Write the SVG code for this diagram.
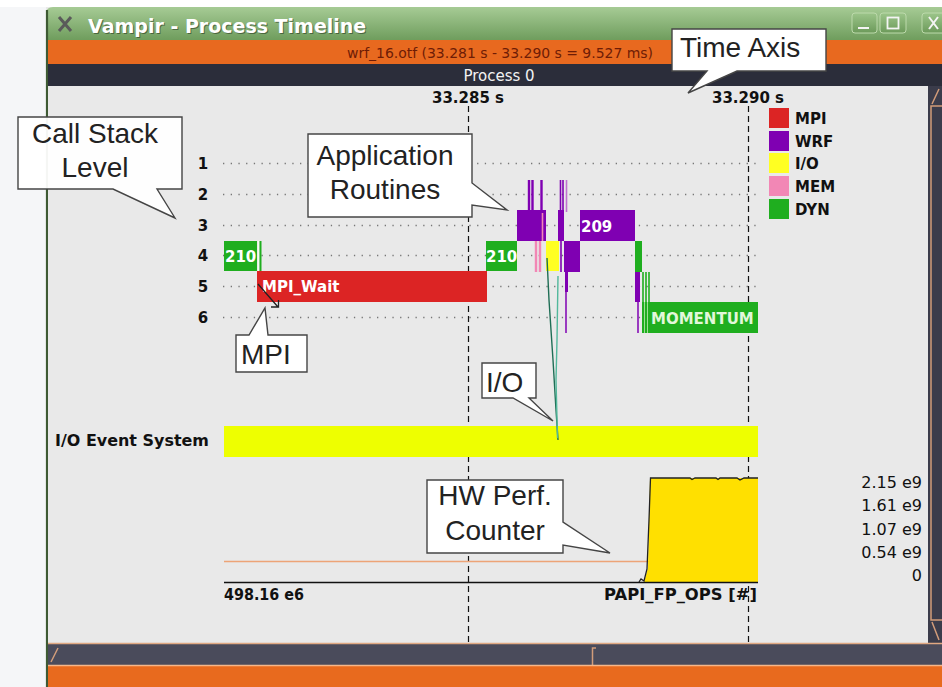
<svg xmlns="http://www.w3.org/2000/svg" width="942" height="687" viewBox="0 0 942 687">
<defs>
<linearGradient id="tb" x1="0" y1="0" x2="0" y2="1"><stop offset="0" stop-color="#a6cb95"/><stop offset="1" stop-color="#6f9d5d"/></linearGradient>
<linearGradient id="btn" x1="0" y1="0" x2="0" y2="1"><stop offset="0" stop-color="#9cc58a"/><stop offset="1" stop-color="#6c9a5a"/></linearGradient>
</defs>
<style>
.lbl{font-family:"DejaVu Sans",Verdana,sans-serif;font-weight:bold;font-size:15px;fill:#111}
.num{font-family:"DejaVu Sans",Verdana,sans-serif;font-size:16px;fill:#111}
.wt{font-family:"DejaVu Sans",Verdana,sans-serif;font-weight:bold;font-size:15px;fill:#fff}
.call{fill:#fff;stroke:#454545;stroke-width:1.4}
.ct{font-family:"Liberation Sans",Arial,sans-serif;font-size:28px;fill:#222}
.dot{stroke:#777;stroke-width:1.3;stroke-dasharray:1.3 6.4;fill:none}
.dash{stroke:#111;stroke-width:1.2;stroke-dasharray:6 4;fill:none}
.tan{stroke:#d29c7a;stroke-width:1.5;fill:none}
.g{fill:#1fae1f}.p{fill:#7f00b2}.r{fill:#dc2424}.k{fill:#f287b5}.y{fill:#ffff22}
</style>
<rect x="0" y="0" width="942" height="687" fill="#f5f6f8"/>
<rect x="0" y="0" width="942" height="7" fill="#ffffff"/>
<g id="window">
<rect x="46" y="7" width="896" height="680" fill="#e9e9e9"/>
<path d="M46,14 Q46,7 53,7 H942 V40 H46 Z" fill="url(#tb)"/>
<line x1="47" y1="10" x2="47" y2="687" stroke="#3e5a34" stroke-width="2.2"/>
<path d="M59,17 L71,31 M71,17 L59,31" stroke="#5a5a5a" stroke-width="3"/>
<text x="89" y="34" font-family="DejaVu Sans,Verdana,sans-serif" font-weight="bold" font-size="19" fill="#2c3d24" opacity="0.6">Vampir - Process Timeline</text>
<text x="88" y="33" font-family="DejaVu Sans,Verdana,sans-serif" font-weight="bold" font-size="19" fill="#ffffff">Vampir - Process Timeline</text>
<rect x="852" y="13" width="25" height="20" rx="3" fill="url(#btn)" stroke="#bcd9ab"/>
<line x1="858" y1="28" x2="869" y2="28" stroke="#f4f4f4" stroke-width="2"/>
<rect x="880" y="13" width="26" height="20" rx="3" fill="url(#btn)" stroke="#bcd9ab"/>
<rect x="887.5" y="17.5" width="11" height="11" fill="none" stroke="#f4f4f4" stroke-width="1.8"/>
<rect x="922" y="13" width="26" height="20" rx="3" fill="url(#btn)" stroke="#bcd9ab"/>
<path d="M929,17 L938,29 M938,17 L929,29" stroke="#f4f4f4" stroke-width="2"/>
<rect x="48" y="40" width="894" height="24" fill="#e8691f"/>
<text x="500" y="58" text-anchor="middle" font-family="DejaVu Sans,Verdana,sans-serif" font-size="14" fill="#6e1c06" textLength="306" lengthAdjust="spacingAndGlyphs">wrf_16.otf (33.281 s - 33.290 s = 9.527 ms)</text>
<rect x="48" y="64" width="894" height="22" fill="#2b2d3a"/>
<text x="499" y="81" text-anchor="middle" font-family="DejaVu Sans,Verdana,sans-serif" font-size="15" fill="#f2f2f2">Process 0</text>
<rect x="48" y="86" width="880" height="557" fill="#e9e9e9"/>
<rect x="928" y="86" width="14" height="557" fill="#3b3c4b"/>
<rect x="931" y="106" width="12" height="514" class="tan"/>
<path d="M932,104 L939,89 M932,622 L939,640" class="tan"/>
<rect x="48" y="643" width="894" height="22" fill="#4a4b5b"/>
<line x1="48" y1="643.5" x2="942" y2="643.5" stroke="#e0a882" stroke-width="1.5"/>
<path d="M51,662 L58,648 M596,648 H592.5 V665" class="tan"/>
<rect x="48" y="665" width="894" height="22" fill="#e86a1e"/>
<line x1="48" y1="665.5" x2="942" y2="665.5" stroke="#f6b78a" stroke-width="1.5"/>
</g>
<g id="time-axis">
<text x="468" y="103" text-anchor="middle" class="lbl">33.285 s</text>
<text x="748" y="103" text-anchor="middle" class="lbl">33.290 s</text>
<line x1="468.5" y1="106" x2="468.5" y2="643" class="dash"/>
<line x1="748.5" y1="106" x2="748.5" y2="643" class="dash"/>
</g>
<g id="stack-levels">
<text x="203" y="169" text-anchor="middle" class="lbl" font-size="16">1</text>
<text x="203" y="200" text-anchor="middle" class="lbl" font-size="16">2</text>
<text x="203" y="231" text-anchor="middle" class="lbl" font-size="16">3</text>
<text x="203" y="261" text-anchor="middle" class="lbl" font-size="16">4</text>
<text x="203" y="292" text-anchor="middle" class="lbl" font-size="16">5</text>
<text x="203" y="323" text-anchor="middle" class="lbl" font-size="16">6</text>
<path d="M223,163.5 H762 M223,194.5 H762 M223,225.5 H762 M223,255.5 H762 M223,286.5 H762 M223,317.5 H762" class="dot"/>
</g>
<g id="legend">
<rect x="769" y="108" width="20" height="20" class="r"/>
<rect x="769" y="131" width="20" height="20" class="p"/>
<rect x="769" y="153" width="20" height="20" class="y"/>
<rect x="769" y="176" width="20" height="20" class="k"/>
<rect x="769" y="199" width="20" height="20" class="g"/>
<text x="795" y="124" class="lbl">MPI</text>
<text x="795" y="147" class="lbl">WRF</text>
<text x="795" y="169" class="lbl">I/O</text>
<text x="795" y="192" class="lbl">MEM</text>
<text x="795" y="215" class="lbl">DYN</text>
</g>
<g id="timeline-blocks">
<rect x="224" y="241" width="33" height="30" class="g"/>
<line x1="258.5" y1="241" x2="258.5" y2="271" stroke="#f4fff0" stroke-width="1.2"/>
<line x1="260.5" y1="241" x2="260.5" y2="271" stroke="#1fae1f" stroke-width="2"/>
<text x="225" y="262" class="wt">210</text>
<rect x="257" y="271" width="230" height="31" class="r"/>
<text x="262" y="292" class="wt">MPI_Wait</text>
<rect x="486" y="241" width="31" height="30" class="g"/>
<text x="486" y="262" class="wt">210</text>
<rect x="517" y="210" width="29" height="31" class="p"/>
<path d="M529,180 V210 M532.5,180 V210 M541.5,180 V241" stroke="#7f00b2" stroke-width="2.4"/>
<path d="M542.5,213 V241" stroke="#f287b5" stroke-width="1.6"/>
<path d="M536,241 V272 M540,241 V272" stroke="#f287b5" stroke-width="2.4"/>
<rect x="546" y="241" width="13" height="30" class="y"/>
<rect x="558" y="210" width="6" height="31" class="p"/>
<path d="M560.5,180 V210 M563,180 V210 M561,241 V272" stroke="#7f00b2" stroke-width="1.6"/>
<path d="M566.5,180 V212" stroke="#c070d0" stroke-width="1.6"/>
<rect x="564" y="241" width="16" height="31" class="p"/>
<path d="M566.5,272 V292" stroke="#7f00b2" stroke-width="3"/>
<path d="M566,292 V333" stroke="#7f00b2" stroke-width="1.5"/>
<rect x="580" y="210" width="55" height="31" class="p"/>
<text x="581" y="232" class="wt">209</text>
<rect x="635" y="241" width="7" height="31" class="g"/>
<rect x="635" y="272" width="5" height="30" class="p"/>
<path d="M638,302 V333" stroke="#7f00b2" stroke-width="1.5"/>
<path d="M643,272 V333 M646,272 V333 M649,272 V333" stroke="#1fae1f" stroke-width="1.6"/>
<rect x="642" y="302" width="116" height="31" class="g"/>
<path d="M644.5,302 V333 M647.5,302 V333" stroke="#9ede96" stroke-width="1"/>
<text x="651" y="324" class="wt" fill="#e2f7da" style="fill:#e2f7da">MOMENTUM</text>
</g>
<g id="io-events">
<text x="55" y="446" class="lbl" font-size="16" textLength="154" lengthAdjust="spacingAndGlyphs">I/O Event System</text>
<rect x="224" y="426" width="534" height="31" fill="#eeff00"/>
</g>
<g id="counter-chart">
<line x1="224" y1="561.5" x2="758" y2="561.5" stroke="#eda477" stroke-width="1.3"/>
<path d="M644,582 L648,568 L650,478 H758 V582 Z" fill="#ffe000"/>
<path d="M639,582 L641,579 L644,581 L647,569 L649,520 L650.5,478 H690 L692,479.5 L695,478 H716 L718,479.5 L720,478 H737 L740,480 L744,478 H758" fill="none" stroke="#222" stroke-width="1.3"/>
<line x1="224" y1="582.5" x2="758" y2="582.5" stroke="#111" stroke-width="1.3"/>
<text x="224" y="600" class="lbl" font-size="16" textLength="80" lengthAdjust="spacingAndGlyphs">498.16 e6</text>
<text x="757" y="600" text-anchor="end" class="lbl" font-size="16" textLength="153" lengthAdjust="spacingAndGlyphs">PAPI_FP_OPS [#]</text>
<text x="922" y="488" text-anchor="end" class="num">2.15 e9</text>
<text x="922" y="511" text-anchor="end" class="num">1.61 e9</text>
<text x="922" y="535" text-anchor="end" class="num">1.07 e9</text>
<text x="922" y="558" text-anchor="end" class="num">0.54 e9</text>
<text x="922" y="581" text-anchor="end" class="num">0</text>
</g>
<g id="connectors">
<polyline points="547,258 549,300 553,360 556,410 558,440" fill="none" stroke="#1f6e55" stroke-width="1.4"/>
<polyline points="558,276 557,340 556,380 557.5,438" fill="none" stroke="#52b89c" stroke-width="1.4"/>
<path d="M258,284 L278,307 M271,307 H278.5 V300" fill="none" stroke="#222" stroke-width="1.3"/>
</g>
<g id="callout-time-axis">
<path d="M672,29 H826 V71 H737 L688,93 L707,71 H672 Z" class="call"/>
<text x="680" y="57" class="ct">Time Axis</text>
</g>
<g id="callout-call-stack">
<path d="M18,117 H182 V189 H157 L175,218 L113,189 H18 Z" class="call" fill-opacity="0.95"/>
<text x="95" y="143" text-anchor="middle" class="ct">Call Stack</text>
<text x="95" y="177" text-anchor="middle" class="ct">Level</text>
</g>
<g id="callout-application">
<path d="M308,134 H472 V183 L507,210 L472,205 V217 H308 Z" class="call"/>
<text x="385" y="165" text-anchor="middle" class="ct">Application</text>
<text x="385" y="199" text-anchor="middle" class="ct">Routines</text>
</g>
<g id="callout-mpi">
<path d="M236,335 H249 L265,308 L268,335 H307 V372 H236 Z" class="call"/>
<text x="241" y="364" class="ct">MPI</text>
</g>
<g id="callout-io">
<path d="M482,363 H536 V398 H529 L553,421 L513,398 H482 Z" class="call"/>
<text x="486" y="392" class="ct">I/O</text>
</g>
<g id="callout-hw">
<path d="M427,480 H563 V522 L610,553 L563,545 V553 H427 Z" class="call"/>
<text x="495" y="505" text-anchor="middle" class="ct">HW Perf.</text>
<text x="495" y="540" text-anchor="middle" class="ct">Counter</text>
</g>
</svg>
